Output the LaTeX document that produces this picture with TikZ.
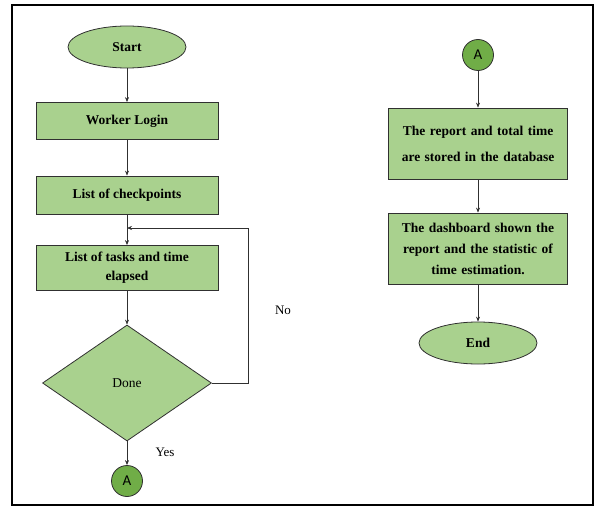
\documentclass[tikz,border=0pt]{standalone}
\usepackage{fontspec}
\setmainfont{Liberation Serif}
\newfontfamily\circfont{Carlito}
\usetikzlibrary{shapes.geometric,arrows.meta}

\definecolor{boxgreen}{HTML}{A9D18E}
\definecolor{circgreen}{HTML}{70AD47}
\definecolor{edgegray}{HTML}{303030}

\begin{document}
\begin{tikzpicture}[x=1pt,y=-1pt]
   \tikzstyle{every node}=[draw=edgegray, line width=0.8pt, fill=boxgreen, font=\bfseries\fontsize{13.5}{19}\selectfont, align=center]
   \tikzstyle{proc}=[rectangle, minimum width=182pt]
   \tikzstyle{term}=[ellipse, minimum width=118pt, minimum height=42pt]
   \tikzstyle{conn}=[circle, fill=circgreen, minimum size=31pt, inner sep=0pt, font=\circfont\fontsize{15}{15}\selectfont]
   \tikzstyle{flow}=[draw=edgegray, line width=0.6pt, -{Stealth[length=5pt,width=4pt]}]
   \tikzstyle{tag}=[draw=none, fill=none, font=\fontsize{13}{15}\selectfont]

\useasboundingbox (0,0) rectangle (602,508);
\draw[line width=1.6pt, black] (12,5) rectangle (593,505);

% left column
\node[term] (start) at (127,47) {Start};
\node[proc, minimum height=37pt] (login) at (127,121) {Worker Login};
\node[proc, minimum height=38pt] (checks) at (127,195) {List of checkpoints};
\node[proc, minimum height=45pt, inner sep=0pt] (tasks) at (127,268) {List of tasks and time\\elapsed};
\node[diamond, minimum width=169pt, minimum height=116pt, inner sep=0pt] (done) at (127,383) {\mdseries Done};
\node[conn] (aout) at (127,481) {A};
\coordinate (join) at (127,228);

\draw[flow] (start) -- (login);
\draw[flow] (login) -- (checks);
\draw[flow] (checks) -- (tasks);
\draw[flow] (tasks) -- (done);
\draw[flow] (done) -- (aout);
\draw[flow] (done.east) -- (248,383) |- (join);

\node[tag] (yes) at (165,452) {Yes};
\node[tag] (no) at (283,310) {No};

% right column
\node[conn] (ain) at (478,55) {A};
\node[proc, text width=172pt, minimum width=179pt, minimum height=71pt, inner sep=0pt] (store) at (478,143.5) {The report and total time\\[7pt]are stored in the database};
\node[proc, text width=172pt, minimum width=179pt, minimum height=71pt, inner sep=0pt, font=\bfseries\fontsize{13.5}{21}\selectfont] (dash) at (478,248.5) {The dashboard shown the\\report and the statistic of\\time estimation.};
\node[term] (end) at (478,343) {End};

\draw[flow] (ain) -- (store);
\draw[flow] (store) -- (dash);
\draw[flow] (dash) -- (end);

\end{tikzpicture}
\end{document}
